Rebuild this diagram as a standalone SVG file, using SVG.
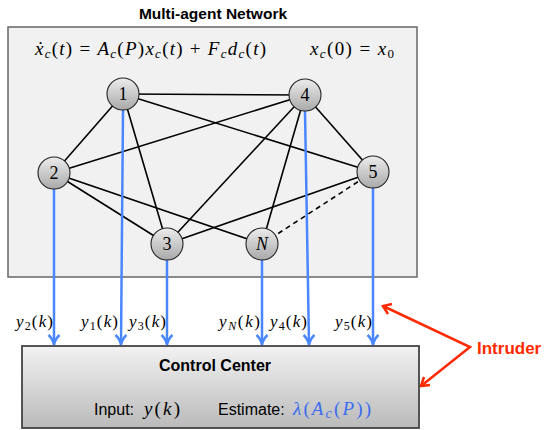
<svg xmlns="http://www.w3.org/2000/svg" width="544" height="430" viewBox="0 0 544 430">
<style>
.sans{font-family:"Liberation Sans",Arial,sans-serif}
.b{font-weight:bold}
.m{font-family:"Liberation Serif","DejaVu Serif",serif;font-size:19px}
.i{font-style:italic}
.edge{stroke:#000;stroke-width:1.6;fill:none}
.blue{stroke:#4a86ff;stroke-width:2.5;fill:none}
.red{stroke:#ff2a00;stroke-width:2.5;fill:none}
.node circle{fill:url(#ng);stroke:#222;stroke-width:1.1}
.nl{font-family:"Liberation Serif","DejaVu Serif",serif;font-size:18px;text-anchor:middle}
.yl{font-family:"Liberation Serif","DejaVu Serif",serif;font-size:17px}
</style>
<defs>
<linearGradient id="ng" x1="0" y1="0" x2="0" y2="1">
<stop offset="0" stop-color="#ececec"/>
<stop offset="1" stop-color="#a9a9a9"/>
</linearGradient>
<linearGradient id="cg" x1="0" y1="0" x2="0" y2="1">
<stop offset="0" stop-color="#f2f2f2"/>
<stop offset="1" stop-color="#bababa"/>
</linearGradient>
</defs>

<g id="network-box">
<rect x="8" y="27" width="409" height="250" fill="#f1f1f1" stroke="#666" stroke-width="1.5"/>
<text x="213" y="19" class="sans b" font-size="15.5" text-anchor="middle">Multi-agent Network</text>
<text x="35" y="55" class="m" textLength="231" lengthAdjust="spacing"><tspan class="i">ẋ</tspan><tspan class="i" font-size="13" baseline-shift="-3">c</tspan>(<tspan class="i">t</tspan>) = <tspan class="i">A</tspan><tspan class="i" font-size="13" baseline-shift="-3">c</tspan>(<tspan class="i">P</tspan>)<tspan class="i">x</tspan><tspan class="i" font-size="13" baseline-shift="-3">c</tspan>(<tspan class="i">t</tspan>) + <tspan class="i">F</tspan><tspan class="i" font-size="13" baseline-shift="-3">c</tspan><tspan class="i">d</tspan><tspan class="i" font-size="13" baseline-shift="-3">c</tspan>(<tspan class="i">t</tspan>)</text>
<text x="310" y="55" class="m" textLength="84" lengthAdjust="spacing"><tspan class="i">x</tspan><tspan class="i" font-size="13" baseline-shift="-3">c</tspan>(0) = <tspan class="i">x</tspan><tspan font-size="13" baseline-shift="-3">0</tspan></text>
</g>

<g id="connectors">
<line class="edge" x1="123" y1="94" x2="305" y2="95"/>
<line class="edge" x1="123" y1="94" x2="54" y2="173"/>
<line class="edge" x1="123" y1="94" x2="167" y2="244"/>
<line class="edge" x1="123" y1="94" x2="373" y2="172"/>
<line class="edge" x1="305" y1="95" x2="54" y2="173"/>
<line class="edge" x1="305" y1="95" x2="167" y2="244"/>
<line class="edge" x1="305" y1="95" x2="262" y2="244"/>
<line class="edge" x1="305" y1="95" x2="373" y2="172"/>
<line class="edge" x1="54" y1="173" x2="167" y2="244"/>
<line class="edge" x1="54" y1="173" x2="262" y2="244"/>
<line class="edge" x1="373" y1="172" x2="167" y2="244"/>
<line class="edge" x1="373" y1="172" x2="262" y2="244" stroke-dasharray="5,4"/>

<line class="blue" x1="54" y1="189" x2="54" y2="344"/>
<line class="blue" x1="123" y1="110" x2="121" y2="344"/>
<line class="blue" x1="167" y1="260" x2="167" y2="344"/>
<line class="blue" x1="262" y1="260" x2="262" y2="344"/>
<line class="blue" x1="305" y1="111" x2="309" y2="344"/>
<line class="blue" x1="373" y1="188" x2="373" y2="344"/>
<g class="blue">
<path d="M48.5,335 Q53,339 54,345 Q55,339 59.5,335"/>
<path d="M115.5,335 Q120,339 121,345 Q122,339 126.5,335"/>
<path d="M161.5,335 Q166,339 167,345 Q168,339 172.5,335"/>
<path d="M256.5,335 Q261,339 262,345 Q263,339 267.5,335"/>
<path d="M303.5,335 Q308,339 309,345 Q310,339 314.5,335"/>
<path d="M367.5,335 Q372,339 373,345 Q374,339 378.5,335"/>
</g>

<path class="red" d="M383,306 L470,347 L421,386"/>
<path class="red" d="M392,304 L383,306 L388,314"/>
<path class="red" d="M424,377 L421,386 L430,385"/>
</g>

<g id="node-1" class="node"><circle cx="123" cy="94" r="16"/><text x="123" y="100" class="nl">1</text></g>
<g id="node-4" class="node"><circle cx="305" cy="95" r="16"/><text x="305" y="101" class="nl">4</text></g>
<g id="node-2" class="node"><circle cx="54" cy="173" r="16"/><text x="54" y="179" class="nl">2</text></g>
<g id="node-5" class="node"><circle cx="373" cy="172" r="16"/><text x="373" y="178" class="nl">5</text></g>
<g id="node-3" class="node"><circle cx="167" cy="244" r="16"/><text x="167" y="250" class="nl">3</text></g>
<g id="node-N" class="node"><circle cx="262" cy="244" r="16"/><text x="262" y="250" class="nl i">N</text></g>

<g id="labels">
<text x="16" y="327" class="yl" textLength="37" lengthAdjust="spacing"><tspan class="i">y</tspan><tspan font-size="12" baseline-shift="-3">2</tspan>(<tspan class="i">k</tspan>)</text>
<text x="81" y="327" class="yl" textLength="37" lengthAdjust="spacing"><tspan class="i">y</tspan><tspan font-size="12" baseline-shift="-3">1</tspan>(<tspan class="i">k</tspan>)</text>
<text x="129" y="327" class="yl" textLength="37" lengthAdjust="spacing"><tspan class="i">y</tspan><tspan font-size="12" baseline-shift="-3">3</tspan>(<tspan class="i">k</tspan>)</text>
<text x="219" y="327" class="yl" textLength="41" lengthAdjust="spacing"><tspan class="i">y</tspan><tspan class="i" font-size="12" baseline-shift="-3">N</tspan>(<tspan class="i">k</tspan>)</text>
<text x="270" y="327" class="yl" textLength="37" lengthAdjust="spacing"><tspan class="i">y</tspan><tspan font-size="12" baseline-shift="-3">4</tspan>(<tspan class="i">k</tspan>)</text>
<text x="335" y="327" class="yl" textLength="37" lengthAdjust="spacing"><tspan class="i">y</tspan><tspan font-size="12" baseline-shift="-3">5</tspan>(<tspan class="i">k</tspan>)</text>
</g>

<g id="control-center">
<rect x="22" y="346" width="397" height="82" fill="url(#cg)" stroke="#444" stroke-width="1.8"/>
<text x="215" y="371" class="sans b" font-size="16" text-anchor="middle">Control Center</text>
<text x="94" y="415" class="sans" font-size="16">Input:</text>
<text x="144" y="415" class="m" font-size="21" textLength="36" lengthAdjust="spacing"><tspan class="i">y</tspan>(<tspan class="i">k</tspan>)</text>
<text x="218" y="415" class="sans" font-size="16">Estimate:</text>
<text x="293" y="415" class="m" font-size="21" fill="#3a6cf0" textLength="78" lengthAdjust="spacing"><tspan class="i">λ</tspan>(<tspan class="i">A</tspan><tspan class="i" font-size="14" baseline-shift="-3">c</tspan>(<tspan class="i">P</tspan>))</text>
</g>

<g id="intruder">
<text x="477" y="354" class="sans b" font-size="17" fill="#ff2a00">Intruder</text>
</g>
</svg>
